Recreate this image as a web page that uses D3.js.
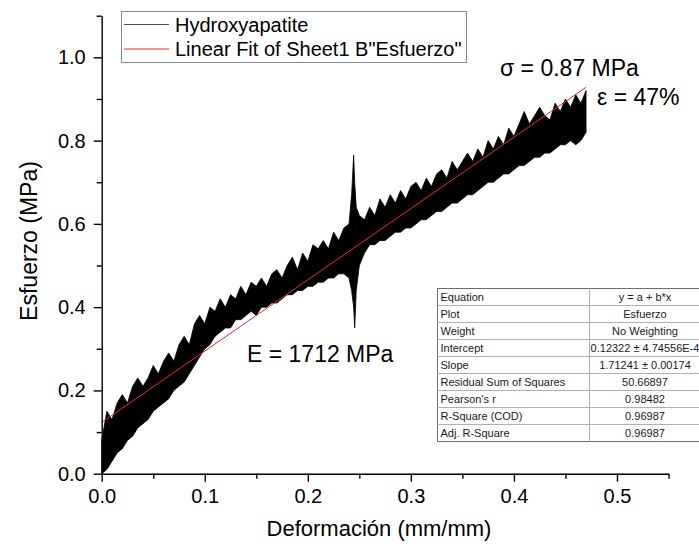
<!DOCTYPE html>
<html>
<head>
<meta charset="utf-8">
<script src="https://cdn.jsdelivr.net/npm/d3@7"></script>
<style>
  body { margin: 0; background: #fff; }
  svg { display: block; font-family: "Liberation Sans", Arial, sans-serif; }
</style>
</head>
<body>
<div id="chart"></div>
<script>
// strain samples (mm/mm) with the band of the noisy stress trace
var strain = [0.000,0.005,0.010,0.015,0.020,0.025,0.030,0.035,0.040,0.045,
  0.050,0.055,0.060,0.065,0.070,0.075,0.080,0.085,0.090,0.095,
  0.100,0.105,0.110,0.115,0.120,0.125,0.130,0.135,0.140,0.145,
  0.150,0.155,0.160,0.165,0.170,0.175,0.180,0.185,0.190,0.195,
  0.200,0.205,0.210,0.215,0.220,0.225,0.230,0.235,0.240,0.2425,
  0.2445,0.2455,0.247,0.250,0.255,0.260,0.265,0.270,0.275,0.280,
  0.285,0.290,0.295,0.300,0.305,0.310,0.315,0.320,0.325,0.330,
  0.335,0.340,0.345,0.350,0.355,0.360,0.365,0.370,0.375,0.380,
  0.385,0.390,0.395,0.400,0.405,0.410,0.415,0.420,0.425,0.430,
  0.435,0.440,0.445,0.450,0.455,0.460,0.465,0.470];
var stressHigh = [0.08,0.15,0.13,0.17,0.19,0.17,0.21,0.23,0.21,0.23,
  0.26,0.24,0.27,0.29,0.27,0.31,0.33,0.31,0.36,0.38,
  0.36,0.40,0.39,0.42,0.40,0.43,0.42,0.45,0.43,0.46,
  0.45,0.47,0.45,0.48,0.49,0.47,0.50,0.52,0.49,0.53,
  0.51,0.55,0.54,0.56,0.54,0.58,0.56,0.59,0.60,0.67,
  0.765,0.70,0.64,0.62,0.61,0.64,0.62,0.66,0.64,0.67,
  0.65,0.68,0.66,0.69,0.70,0.68,0.71,0.69,0.72,0.73,
  0.71,0.75,0.73,0.75,0.77,0.75,0.78,0.76,0.80,0.78,
  0.81,0.79,0.83,0.81,0.84,0.87,0.84,0.86,0.88,0.86,
  0.85,0.89,0.87,0.90,0.88,0.91,0.89,0.92];
var stressLow = [0.00,0.01,0.03,0.05,0.06,0.08,0.09,0.11,0.12,0.13,
  0.15,0.16,0.17,0.18,0.20,0.21,0.22,0.24,0.26,0.28,
  0.30,0.31,0.33,0.34,0.35,0.35,0.37,0.37,0.38,0.39,
  0.38,0.40,0.40,0.41,0.41,0.42,0.43,0.43,0.44,0.44,
  0.45,0.45,0.46,0.46,0.47,0.47,0.48,0.48,0.47,0.44,
  0.40,0.35,0.44,0.50,0.53,0.55,0.55,0.56,0.56,0.57,
  0.58,0.58,0.59,0.59,0.60,0.61,0.61,0.62,0.63,0.63,
  0.64,0.65,0.65,0.66,0.67,0.67,0.68,0.69,0.70,0.70,
  0.71,0.72,0.72,0.73,0.74,0.74,0.75,0.76,0.76,0.77,
  0.77,0.78,0.79,0.79,0.80,0.79,0.80,0.82];

// linear fit y = a + b*x
var fitIntercept = 0.12322;
var fitSlope = 1.71241;
var fitRange = [0, 0.47];

var xMajor = [0, 0.1, 0.2, 0.3, 0.4, 0.5];
var xMinor = [0.05, 0.15, 0.25, 0.35, 0.45, 0.55];
var yMajor = [0, 0.2, 0.4, 0.6, 0.8, 1.0];
var yMinor = [0.1, 0.3, 0.5, 0.7, 0.9, 1.1];

var legendLabels = ["Hydroxyapatite", "Linear Fit of Sheet1 B\"Esfuerzo\""];
var tableLabels = ["Equation", "Plot", "Weight", "Intercept", "Slope",
  "Residual Sum of Squares", "Pearson's r", "R-Square (COD)", "Adj. R-Square"];
var tableValues = ["y = a + b*x", "Esfuerzo", "No Weighting", "0.12322 \u00b1 4.74556E-4",
  "1.71241 \u00b1 0.00174", "50.66897", "0.98482", "0.96987", "0.96987"];

var width = 699, height = 544;
var svg = d3.select("#chart").append("svg")
  .attr("width", width)
  .attr("height", height);

var x = d3.scaleLinear().domain([0, 0.55]).range([101.7, 668.5]);
var y = d3.scaleLinear().domain([0, 1.1]).range([473.7, 15.7]);

// data band
var pts = strain.map(function (s, i) { return { x: s, lo: stressLow[i], hi: stressHigh[i] }; });
var area = d3.area()
  .x(function (d) { return x(d.x); })
  .y0(function (d) { return y(d.lo); })
  .y1(function (d) { return y(d.hi); });
svg.append("path")
  .datum(pts)
  .attr("d", area)
  .attr("fill", "#000")
  .attr("stroke", "#000")
  .attr("stroke-width", 0.8)
  .attr("stroke-linejoin", "miter");

// fit line
svg.append("line")
  .attr("x1", x(fitRange[0])).attr("y1", y(fitIntercept + fitSlope * fitRange[0]))
  .attr("x2", x(fitRange[1])).attr("y2", y(fitIntercept + fitSlope * fitRange[1]))
  .attr("stroke", "#ff2020")
  .attr("stroke-width", 1);

// axes
function styleAxis(g) {
  g.selectAll("path.domain").attr("stroke", "#000").attr("stroke-width", 1.4);
  g.selectAll(".tick line").attr("stroke", "#000").attr("stroke-width", 1.4);
  g.selectAll(".tick text").attr("fill", "#000").style("font-size", "20px")
    .style("font-family", "'Liberation Sans', Arial, sans-serif");
}

var gx = svg.append("g").attr("transform", "translate(0," + y(0) + ")")
  .call(d3.axisBottom(x).tickValues(xMajor).tickSize(8).tickSizeOuter(0).tickPadding(7)
    .tickFormat(d3.format(".1f")));
styleAxis(gx);
var gxm = svg.append("g").attr("transform", "translate(0," + y(0) + ")")
  .call(d3.axisBottom(x).tickValues(xMinor).tickSize(5).tickSizeOuter(0).tickFormat(""));
gxm.select("path.domain").remove();
styleAxis(gxm);

var gy = svg.append("g").attr("transform", "translate(" + x(0) + ",0)")
  .call(d3.axisLeft(y).tickValues(yMajor).tickSize(8).tickSizeOuter(0).tickPadding(8)
    .tickFormat(d3.format(".1f")));
styleAxis(gy);
var gym = svg.append("g").attr("transform", "translate(" + x(0) + ",0)")
  .call(d3.axisLeft(y).tickValues(yMinor).tickSize(5).tickSizeOuter(0).tickFormat(""));
gym.select("path.domain").remove();
styleAxis(gym);

// axis titles
svg.append("text")
  .attr("x", 379).attr("y", 536)
  .attr("text-anchor", "middle")
  .style("font-size", "22px")
  .text("Deformación (mm/mm)");
svg.append("text")
  .attr("transform", "translate(37,241) rotate(-90)")
  .attr("text-anchor", "middle")
  .style("font-size", "23px")
  .text("Esfuerzo (MPa)");

// annotations
svg.append("text").attr("x", 500).attr("y", 76).style("font-size", "23px").text("\u03c3 = 0.87 MPa");
svg.append("text").attr("x", 597).attr("y", 105).style("font-size", "23px").text("\u03b5 = 47%");
svg.append("text").attr("x", 247).attr("y", 362).style("font-size", "23px").text("E = 1712 MPa");

// legend
var legend = svg.append("g");
legend.append("rect")
  .attr("x", 121.5).attr("y", 11.5).attr("width", 345).attr("height", 51)
  .attr("fill", "#fff").attr("stroke", "#8a8a8a").attr("stroke-width", 1);
var legendColors = ["#555", "#ff2020"];
legendLabels.forEach(function (lab, i) {
  var ly = 24.5 + i * 24.5;
  legend.append("line")
    .attr("x1", 124).attr("x2", 169).attr("y1", ly).attr("y2", ly)
    .attr("stroke", legendColors[i]).attr("stroke-width", 1);
  legend.append("text")
    .attr("x", 175).attr("y", ly + 7)
    .style("font-size", "20px")
    .text(lab);
});

// fit table
var table = svg.append("g");
var tLeft = 437.5, tTop = 288.5, rowH = 17, tDiv = 589.5, tRight = 720;
table.append("rect")
  .attr("x", tLeft).attr("y", tTop).attr("width", tRight - tLeft).attr("height", rowH * tableLabels.length)
  .attr("fill", "#fff").attr("stroke", "#6e6e6e").attr("stroke-width", 1);
tableLabels.forEach(function (lab, i) {
  var ry = tTop + i * rowH;
  if (i > 0) {
    table.append("line")
      .attr("x1", tLeft).attr("x2", tRight).attr("y1", ry).attr("y2", ry)
      .attr("stroke", "#b0b0b0").attr("stroke-width", 1);
  }
  table.append("text")
    .attr("x", tLeft + 3).attr("y", ry + 12.5)
    .style("font-size", "11px").attr("fill", "#1a1a1a")
    .text(lab);
  table.append("text")
    .attr("x", 645).attr("y", ry + 12.5)
    .attr("text-anchor", "middle")
    .style("font-size", "11px").attr("fill", "#1a1a1a")
    .text(tableValues[i]);
});
table.append("line")
  .attr("x1", tDiv).attr("x2", tDiv).attr("y1", tTop).attr("y2", tTop + rowH * tableLabels.length)
  .attr("stroke", "#b0b0b0").attr("stroke-width", 1);
</script>
</body>
</html>
